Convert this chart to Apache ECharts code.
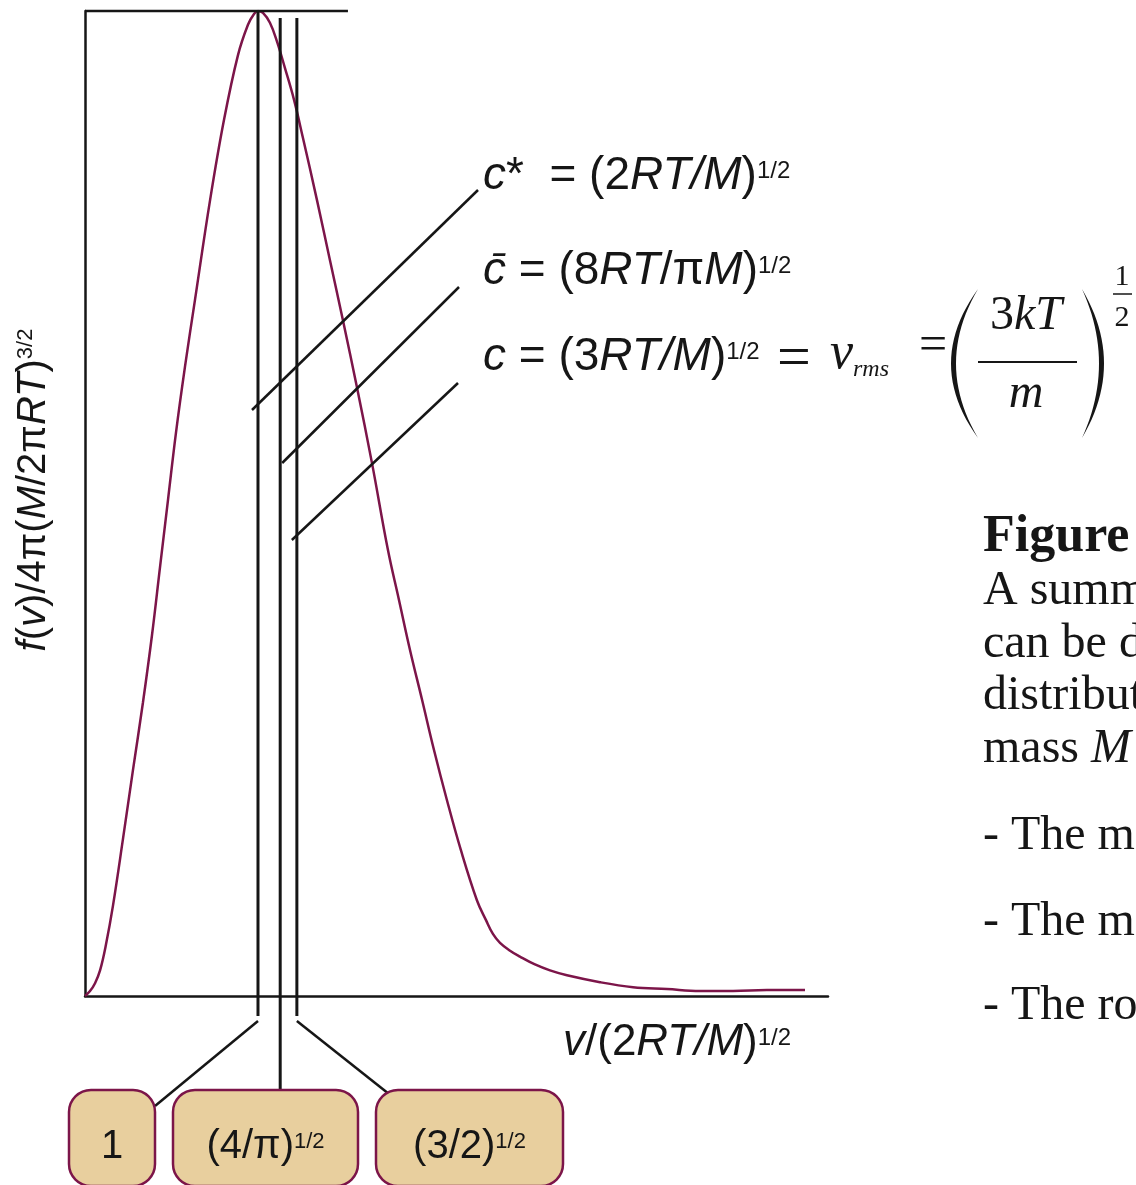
<!DOCTYPE html>
<html>
<head>
<meta charset="utf-8">
<title>Maxwell distribution of speeds</title>
<script src="https://cdn.jsdelivr.net/npm/echarts@6.0.0/dist/echarts.min.js"></script>
<style>
  html, body { margin: 0; padding: 0; background: #ffffff; }
  #chart { width: 1136px; height: 1185px; }
</style>
</head>
<body>
<div id="chart"></div>
<script>
// Reduced speed v/(2RT/M)^1/2 along the curve
const reducedSpeed = [
  0, 0.029, 0.058, 0.087, 0.121, 0.162, 0.220, 0.277, 0.335, 0.387,
  0.434, 0.480, 0.526, 0.578, 0.636, 0.723, 0.803, 0.884, 0.942, 0.977, 1.000,
  1.029, 1.069, 1.110, 1.156, 1.208, 1.260, 1.341, 1.416, 1.491, 1.572,
  1.659, 1.751, 1.815, 1.879, 1.948, 2.017, 2.092, 2.173, 2.266, 2.318,
  2.358, 2.399, 2.457, 2.514, 2.601, 2.688, 2.786, 2.977, 3.168, 3.364,
  3.555, 3.746, 3.942, 4.162
];
// Reduced distribution f(v)/4π(M/2πRT)^3/2, scaled so that the peak is 1
const reducedF = [
  0, 0.005, 0.013, 0.026, 0.052, 0.092, 0.160, 0.229, 0.298, 0.366,
  0.436, 0.504, 0.572, 0.639, 0.707, 0.808, 0.889, 0.955, 0.986, 0.997, 1.000,
  0.998, 0.988, 0.969, 0.942, 0.910, 0.871, 0.808, 0.747, 0.686, 0.618,
  0.541, 0.453, 0.402, 0.351, 0.301, 0.250, 0.199, 0.148, 0.097, 0.077,
  0.063, 0.054, 0.046, 0.040, 0.032, 0.026, 0.021, 0.014, 0.009, 0.007,
  0.005, 0.005, 0.006, 0.006
];
// Characteristic speeds in units of (2RT/M)^1/2: most probable, mean, root mean square
const speedRatios = [1, Math.sqrt(4 / Math.PI), Math.sqrt(3 / 2)];
const speedBoxLabels = ['{r|1}', '{r|(4/π)}{s|1/2}', '{r|(3/2)}{s|1/2}'];
const speedFormulas = [
  '{i|c}{r|*  = (2}{i|RT/M}{r|)}{s|1/2}',
  '{i|c\u0304}{r| = (8}{i|RT}{r|/π}{i|M}{r|)}{s|1/2}',
  '{i|c}{r| = (3}{i|RT/M}{r|)}{s|1/2}'
];
const xAxisTitle = '{i|v}{r|/(2}{i|RT/M}{r|)}{s|1/2}';
const yAxisTitle = '{i|f}{r|(}{i|v}{r|)/4π(}{i|M}{r|/2π}{i|RT}{r|)}{s|3/2}';
const captionLines = [
  '{b|Figure 1.9}',
  '{n|A summary of the conclusions that}',
  '{n|can be deduced from the Maxwell}',
  '{n|distribution for molecules of molar}',
  '{n|mass }{it|M}{n| at a temperature }{it|T}{n|:}',
  '{n|- The most probable speed is }{it|c}{n|*}',
  '{n|- The mean speed is }{it|c\u0304}',
  '{n|- The root mean square speed is }{it|c}'
];
// x-extent of the rule drawn across the top of the peak
const topRuleEnd = 1.52;

const SANS = '"Liberation Sans", Arial, Helvetica, sans-serif';
const SERIF = '"Liberation Serif", "Times New Roman", serif';
const INK = '#161616';
const MAROON = '#7c1549';
const TAN = '#e8cf9e';

const chart = echarts.init(document.getElementById('chart'), null, { renderer: 'canvas' });

chart.setOption({
  animation: false,
  backgroundColor: '#ffffff',
  grid: { left: 85, right: 308, top: 11, bottom: 189 },
  xAxis: {
    type: 'value', min: 0, max: 4.295,
    axisLine: { show: true, onZero: false, lineStyle: { color: INK, width: 2.5 } },
    axisTick: { show: false }, axisLabel: { show: false }, splitLine: { show: false }
  },
  yAxis: {
    type: 'value', min: 0, max: 1,
    axisLine: { show: true, lineStyle: { color: INK, width: 2.5 } },
    axisTick: { show: false }, axisLabel: { show: false }, splitLine: { show: false }
  },
  series: [{
    type: 'line',
    data: reducedSpeed.map((v, i) => [v, reducedF[i]]),
    smooth: 0.4,
    showSymbol: false,
    silent: true,
    z: 3,
    lineStyle: { color: MAROON, width: 2.5 }
  }]
});

const toPx = p => chart.convertToPixel({ gridIndex: 0 }, p);
const [xOrigin, yBase] = toPx([0, 0]);
const yPeak = toPx([1, 1])[1];
const markerX = speedRatios.map(r => toPx([r, 0])[0]);
const ruleEndX = toPx([topRuleEnd, 1])[0];

function seg(x1, y1, x2, y2, w) {
  return { type: 'line', silent: true, z: 10, shape: { x1, y1, x2, y2 },
           style: { stroke: INK, lineWidth: w || 2.5, lineCap: 'butt' } };
}
function txt(x, y, text, rich, align, extra) {
  return Object.assign({ type: 'text', x, y, silent: true, z: 20,
    style: { text, rich, align: align || 'left', verticalAlign: 'middle',
             textAlign: align || 'left', textVerticalAlign: 'middle', fill: INK } }, extra || {});
}
// crescent-shaped bracket between two quadratic arcs
function bracket(xEnd, yTop, yBot, outerX, innerX) {
  const pts = [];
  const ym = (yTop + yBot) / 2;
  const n = 24;
  const q = (t, cx) => [
    (1 - t) * (1 - t) * xEnd + 2 * t * (1 - t) * cx + t * t * xEnd,
    (1 - t) * (1 - t) * yTop + 2 * t * (1 - t) * ym + t * t * yBot
  ];
  const cOut = 2 * outerX - xEnd, cIn = 2 * innerX - xEnd;
  for (let k = 0; k <= n; k++) pts.push(q(k / n, cOut));
  for (let k = n; k >= 0; k--) pts.push(q(k / n, cIn));
  return { type: 'polygon', silent: true, z: 20, shape: { points: pts }, style: { fill: INK } };
}

const sup = (size, drop) => ({ fontFamily: SANS, fontSize: size, lineHeight: size + 2, verticalAlign: 'top', padding: [drop, 0, 0, 0], color: INK });
const sansRich = {
  i: { fontFamily: SANS, fontStyle: 'italic', fontSize: 46, lineHeight: 52, color: INK },
  r: { fontFamily: SANS, fontSize: 46, lineHeight: 52, color: INK },
  s: sup(24, 9)
};
const axisRich = {
  i: { fontFamily: SANS, fontStyle: 'italic', fontSize: 44, lineHeight: 50, color: INK },
  r: { fontFamily: SANS, fontSize: 44, lineHeight: 50, color: INK },
  s: sup(24, 8)
};
const yTitleRich = {
  i: { fontFamily: SANS, fontStyle: 'italic', fontSize: 40, lineHeight: 46, color: INK },
  r: { fontFamily: SANS, fontSize: 40, lineHeight: 46, color: INK },
  s: sup(22, 4)
};
const boxRich = {
  r: { fontFamily: SANS, fontSize: 40, lineHeight: 46, color: INK },
  s: sup(22, 7)
};
const captionRich = {
  b: { fontFamily: SERIF, fontWeight: 'bold', fontSize: 52, lineHeight: 56, color: INK },
  n: { fontFamily: SERIF, fontSize: 48, lineHeight: 54, color: INK },
  it: { fontFamily: SERIF, fontStyle: 'italic', fontSize: 48, lineHeight: 54, color: INK }
};

const els = [];

// rule across the top of the peak
els.push(seg(xOrigin, yPeak, ruleEndX, yPeak, 2.5));

// boxes under the axis
const boxTop = 1090, boxH = 96;
const boxes = [{ x: 69, w: 86 }, { x: 173, w: 185 }, { x: 376, w: 187 }];
boxes.forEach((b, k) => {
  els.push({ type: 'rect', silent: true, z: 12,
    shape: { x: b.x, y: boxTop, width: b.w, height: boxH, r: 22 },
    style: { fill: TAN, stroke: MAROON, lineWidth: 2.5 } });
  els.push(txt(b.x + b.w / 2, 1147, speedBoxLabels[k], boxRich, 'center'));
});

// vertical markers at the characteristic speeds
els.push(seg(markerX[0], yPeak, markerX[0], yBase + 20, 3));
els.push(seg(markerX[1], yPeak + 7, markerX[1], boxTop, 3));
els.push(seg(markerX[2], yPeak + 7, markerX[2], yBase + 20, 3));
// links from markers to their boxes
els.push(seg(markerX[0], yBase + 25, boxes[0].x + boxes[0].w, boxTop + 16, 2.5));
els.push(seg(markerX[2], yBase + 25, boxes[2].x + 13, boxTop + 4, 2.5));

// leaders to the formulas
const leaderStart = [[-6, 410], [2, 463], [-5, 540]];
const leaderEnd = [[478, 190], [459, 287], [458, 383]];
const formulaY = [176, 271, 357];
speedFormulas.forEach((f, k) => {
  els.push(seg(markerX[k] + leaderStart[k][0], leaderStart[k][1], leaderEnd[k][0], leaderEnd[k][1], 2.5));
  els.push(txt(483, formulaY[k], f, sansRich, 'left'));
});

// v_rms = (3kT/m)^1/2
const serif = (size, italic) => ({ fontFamily: SERIF, fontSize: size, fontStyle: italic ? 'italic' : 'normal', lineHeight: size + 4, color: INK });
els.push(txt(777, 360, '{a|=}', { a: serif(60) }, 'left'));
els.push(txt(830, 354, '{a|v}', { a: serif(52, true) }, 'left'));
els.push(txt(853, 370, '{a|rms}', { a: serif(24, true) }, 'left'));
els.push(txt(919, 347, '{a|=}', { a: serif(50) }, 'left'));
els.push(txt(1026, 316, '{a|3}{b|kT}', { a: serif(48), b: serif(48, true) }, 'center'));
els.push(txt(1026, 394, '{b|m}', { b: serif(48, true) }, 'center'));
els.push(seg(978, 362, 1077, 362, 2));
els.push(bracket(978, 289, 438, 951, 956));
els.push(bracket(1082, 289, 438, 1104, 1099));
els.push(txt(1122, 277, '{a|1}', { a: serif(30) }, 'center'));
els.push(seg(1113, 294, 1132, 294, 1.5));
els.push(txt(1122, 318, '{a|2}', { a: serif(30) }, 'center'));

// axis titles
els.push(txt(563, 1043, xAxisTitle, axisRich, 'left'));
els.push(txt(34, 490, yAxisTitle, yTitleRich, 'center', { rotation: Math.PI / 2 }));

// caption on the right
const captionY = [538, 591, 644, 696, 749, 836, 922, 1006];
captionLines.forEach((line, k) => els.push(txt(983, captionY[k], line, captionRich, 'left')));

chart.setOption({ graphic: { elements: els } });
</script>
</body>
</html>
